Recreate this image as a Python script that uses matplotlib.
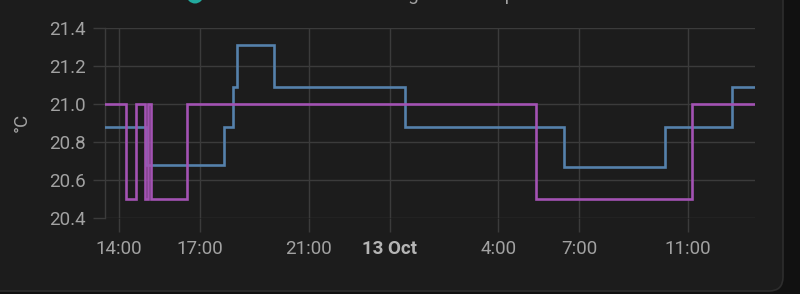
import matplotlib
matplotlib.use("Agg")
import matplotlib.pyplot as plt
from matplotlib.patches import FancyBboxPatch, Circle
from matplotlib.transforms import IdentityTransform
import pandas as pd

plt.rcParams['font.family'] = ['Roboto', 'DejaVu Sans']

# ---- data ----
target_times = ["2023-10-12 13:29", "2023-10-12 14:15", "2023-10-12 14:37", "2023-10-12 14:58",
                "2023-10-12 15:05", "2023-10-12 15:11", "2023-10-12 16:30", "2023-10-13 05:23",
                "2023-10-13 11:10", "2023-10-13 13:29"]
target_vals = [21.0, 20.5, 21.0, 20.5, 21.0, 20.5, 21.0, 20.5, 21.0, 21.0]

current_times = ["2023-10-12 13:29", "2023-10-12 15:00", "2023-10-12 17:52", "2023-10-12 18:13",
                 "2023-10-12 18:21", "2023-10-12 19:44", "2023-10-13 00:33", "2023-10-13 06:26",
                 "2023-10-13 10:10", "2023-10-13 12:37", "2023-10-13 13:29"]
current_vals = [20.88, 20.68, 20.88, 21.09, 21.31, 21.09, 20.88, 20.67, 20.88, 21.09, 21.09]

x_tick_times = ["2023-10-12 14:00", "2023-10-12 17:00", "2023-10-12 21:00", "2023-10-13 00:00",
                "2023-10-13 04:00", "2023-10-13 07:00", "2023-10-13 11:00"]
x_tick_labels = ["14:00", "17:00", "21:00", "13 Oct", "4:00", "7:00", "11:00"]
y_ticks = [20.4, 20.6, 20.8, 21.0, 21.2, 21.4]
y_tick_labels = ["20.4", "20.6", "20.8", "21.0", "21.2", "21.4"]
y_label = "°C"
legend_text = "Thermostat Living room temperature"

# ---- style ----
W, H, DPI = 800, 294, 100
BG = "#1c1c1c"
OUTER = "#111111"
GRID = "#3b3b3b"
TEXT = "#a2a2a2"
BLUE = "#5581ab"
PURPLE = "#a352b3"

fig = plt.figure(figsize=(W / DPI, H / DPI), dpi=DPI, facecolor=OUTER)

card = FancyBboxPatch((-30, 3), 30 + 783, 340, boxstyle="round,pad=0,rounding_size=14",
                      transform=IdentityTransform(), facecolor=BG, edgecolor="#2d2d2d",
                      linewidth=1.2, zorder=-10)
fig.patches.append(card)

# partial legend at top (cut off by the top edge, as in the reference)
circ = Circle((195, H + 5), 8.5, transform=IdentityTransform(), facecolor="#22aa9e",
              edgecolor="none", zorder=-5)
fig.patches.append(circ)
fig.text(268 / W, (H + 0.5) / H, legend_text, color=TEXT, fontsize=13.5, ha="left",
         va="baseline", zorder=-5)

left, right = 105 / W, 755 / W
bottom, top = (H - 218) / H, (H - 28) / H
ax = fig.add_axes([left, bottom, right - left, top - bottom], zorder=5)
ax.set_facecolor("none")

tt = pd.to_datetime(target_times)
ct = pd.to_datetime(current_times)

ax.step(ct, current_vals, where="post", color=BLUE, linewidth=1.9, zorder=3, solid_joinstyle="miter")
ax.step(tt, target_vals, where="post", color=PURPLE, linewidth=1.9, zorder=4, solid_joinstyle="miter")

ax.set_xlim(pd.Timestamp(target_times[0]), pd.Timestamp(target_times[-1]))
ax.set_ylim(20.4, 21.4)

xt = pd.to_datetime(x_tick_times)
ax.set_xticks(xt)
ax.set_xticklabels(x_tick_labels)
ax.set_yticks(y_ticks)
ax.set_yticklabels(y_tick_labels)

ax.grid(True, color=GRID, linewidth=1.0, zorder=1)
ax.tick_params(axis="x", length=10, width=1.0, color=GRID, labelcolor=TEXT, labelsize=13.5, pad=6)
ax.tick_params(axis="y", length=9, width=1.0, color=GRID, labelcolor=TEXT, labelsize=13.5, pad=5)
for lab in ax.get_xticklabels():
    if lab.get_text() == "13 Oct":
        lab.set_fontweight("bold")
        lab.set_color("#b5b5b5")

for s in ["top", "right", "bottom"]:
    ax.spines[s].set_visible(False)
ax.spines["left"].set_color(GRID)
ax.spines["left"].set_linewidth(1.0)

fig.text(22 / W, (H - 122) / H, y_label, color=TEXT, fontsize=13.5, rotation=90,
         ha="center", va="center")

fig.savefig("out.png", dpi=DPI, facecolor=OUTER)
